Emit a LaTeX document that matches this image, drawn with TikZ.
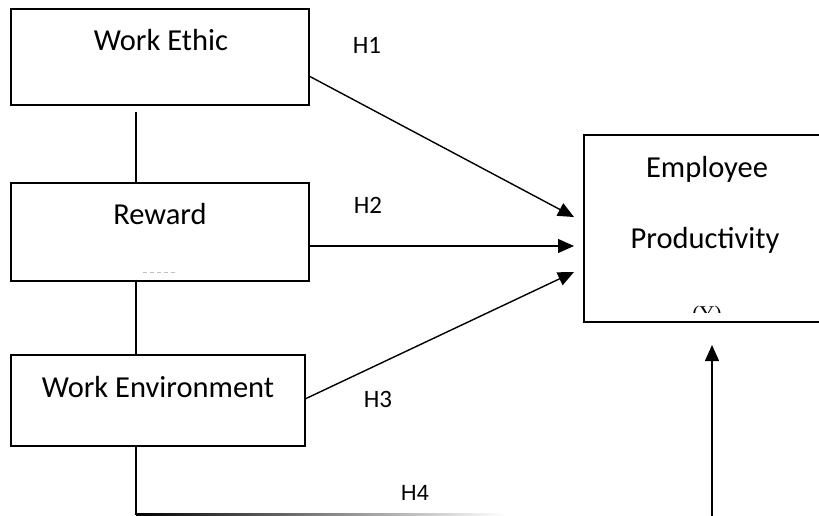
\documentclass[tikz,border=0pt]{standalone}
\usepackage{fontspec}
\setmainfont{Carlito}
\newfontfamily\serifY{Liberation Serif}
\newfontfamily\arialH{Liberation Sans}
\usetikzlibrary{arrows.meta}
\begin{document}
\begin{tikzpicture}[x=1pt,y=-1pt,
  box/.style={draw,line width=1.4pt,inner sep=0pt},
  txt/.style={anchor=base,inner sep=0pt,font=\fontsize{30.5}{32}\selectfont},
  hlab/.style={anchor=base,inner sep=0pt,font=\fontsize{25}{26}\selectfont},
  conn/.style={line width=1.4pt},
  arr/.style={line width=1.4pt,-{Triangle[length=16pt,width=14pt]}}]
\useasboundingbox (0,0) rectangle (819,516);
% boxes
\node[box,minimum width=298pt,minimum height=96pt] (we) at (160,57) {};
\node[box,minimum width=298pt,minimum height=98pt] (rw) at (160,232) {};
\node[box,minimum width=294pt,minimum height=91pt] (wv) at (158,400.5) {};
\node[box,minimum width=236pt,minimum height=187pt] (ep) at (702,228.5) {};
% texts
\node[txt] (wet) at (161,51) {Work Ethic};
\node[txt] (rwt) at (160,224) {Reward};
\node[txt] (wvt) at (158,397) {Work Environment};
\node[txt] (ept1) at (707,177) {Employee};
\node[txt] (ept2) at (705,248) {Productivity};
\begin{scope}
\clip (600,290) rectangle (800,312);
\node[anchor=base,inner sep=0pt,font=\serifY\fontsize{21}{22}\selectfont] (y) at (707,320.5) {(Y)};
\end{scope}
\draw[gray!50,line width=0.8pt,dash pattern=on 4pt off 3pt] (143,272) -- (178,272);
% vertical links
\coordinate (vx) at (136,0);
\draw[conn] (we.south -| vx) ++(0,6) -- (rw.north -| vx);
\draw[conn] (rw.south -| vx) -- (wv.north -| vx);
\coordinate (bl) at (136,514.5);
\draw[conn] (wv.south -| vx) -- (bl);
\coordinate (fe) at (504,514.5);
\shade[left color=black,right color=white] (bl) ++(0,-1) rectangle ([yshift=-1pt]fe);
% arrows
\coordinate (s1) at (309,76);
\coordinate (t1) at (574,217);
\coordinate (s2) at (309,246);
\coordinate (t2) at (574,246);
\coordinate (s3) at (305,399);
\coordinate (t3) at (574,272);
\draw[arr] (s1) -- (t1);
\draw[arr] (s2) -- (t2);
\draw[arr] (s3) -- (t3);
\coordinate (ub) at (712,516);
\coordinate (ut) at (712,345);
\draw[arr] (ub) -- (ut);
% hypothesis labels
\node[hlab] (h1) at (367,54) {H1};
\node[hlab] (h2) at (368,213) {H2};
\node[hlab] (h3) at (378,407) {H3};
\node[hlab,font=\arialH\fontsize{22}{23}\selectfont] (h4) at (415,500) {H4};
\end{tikzpicture}
\end{document}
